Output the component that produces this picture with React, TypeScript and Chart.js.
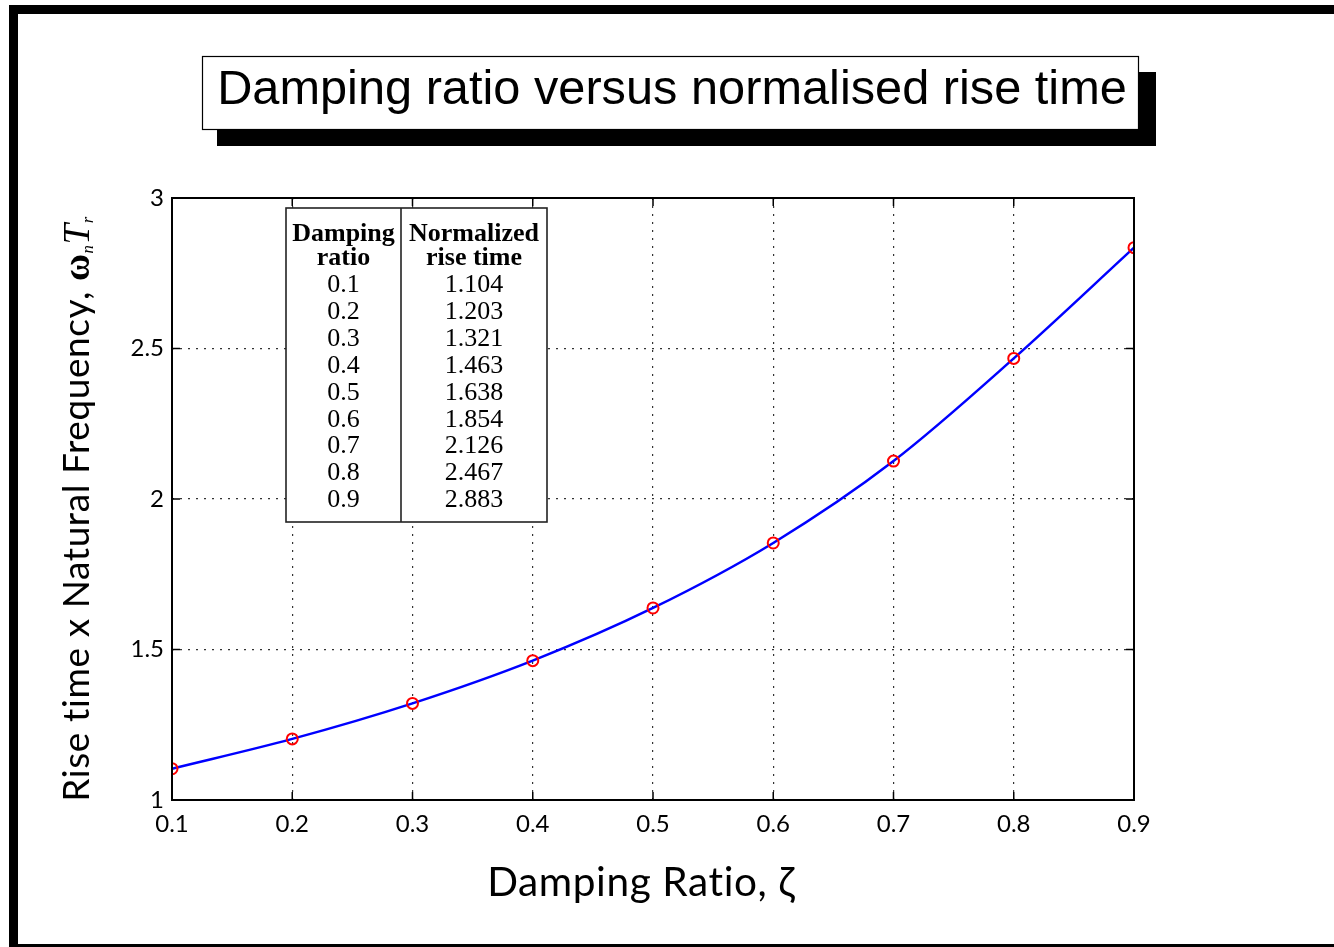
import React, { useEffect, useRef } from "react";
import { Chart, registerables } from "chart.js";

Chart.register(...registerables);

const dampingRatios = [0.1, 0.2, 0.3, 0.4, 0.5, 0.6, 0.7, 0.8, 0.9];
const riseTimes = [1.104, 1.203, 1.321, 1.463, 1.638, 1.854, 2.126, 2.467, 2.835];
const tableRatios = ["0.1", "0.2", "0.3", "0.4", "0.5", "0.6", "0.7", "0.8", "0.9"];
const tableRiseTimes = ["1.104", "1.203", "1.321", "1.463", "1.638", "1.854", "2.126", "2.467", "2.883"];
const xTicks = [0.1, 0.2, 0.3, 0.4, 0.5, 0.6, 0.7, 0.8, 0.9];
const yTicks = [1, 1.5, 2, 2.5, 3];
const titleText = "Damping ratio versus normalised rise time";
const xLabel = "Damping Ratio, \u03B6";
const yLabelMain = "Rise time x Natural Frequency, ";

const W = 1334;
const H = 947;
const SANS = "Lato, 'Liberation Sans', sans-serif";
const SERIF = "'Liberation Serif', 'DejaVu Serif', serif";

const decorPlugin = {
  id: "decor",
  beforeDraw(chart: any) {
    const ctx = chart.ctx;
    ctx.save();
    ctx.fillStyle = "#ffffff";
    ctx.fillRect(0, 0, W, H);
    ctx.restore();
  },
  afterDraw(chart: any) {
    const ctx = chart.ctx;
    const { left, right, top, bottom } = chart.chartArea;
    const xs = chart.scales.x;
    const ys = chart.scales.y;
    ctx.save();

    // inward tick marks
    ctx.strokeStyle = "#000";
    ctx.lineWidth = 1.5;
    ctx.setLineDash([]);
    const tl = 8;
    xTicks.forEach((v) => {
      const px = xs.getPixelForValue(v);
      ctx.beginPath();
      ctx.moveTo(px, bottom);
      ctx.lineTo(px, bottom - tl);
      ctx.moveTo(px, top);
      ctx.lineTo(px, top + tl);
      ctx.stroke();
    });
    yTicks.forEach((v) => {
      const py = ys.getPixelForValue(v);
      ctx.beginPath();
      ctx.moveTo(left, py);
      ctx.lineTo(left + tl, py);
      ctx.moveTo(right, py);
      ctx.lineTo(right - tl, py);
      ctx.stroke();
    });

    // axes box
    ctx.lineWidth = 2;
    ctx.strokeRect(left, top, right - left, bottom - top);

    // table
    const tx0 = 286, tx1 = 547, ty0 = 208, ty1 = 522, tdiv = 401;
    ctx.fillStyle = "#fff";
    ctx.fillRect(tx0, ty0, tx1 - tx0, ty1 - ty0);
    ctx.strokeStyle = "#222";
    ctx.lineWidth = 1.6;
    ctx.strokeRect(tx0, ty0, tx1 - tx0, ty1 - ty0);
    ctx.beginPath();
    ctx.moveTo(tdiv, ty0);
    ctx.lineTo(tdiv, ty1);
    ctx.stroke();
    const c1 = (tx0 + tdiv) / 2;
    const c2 = (tdiv + tx1) / 2;
    ctx.fillStyle = "#000";
    ctx.textAlign = "center";
    ctx.textBaseline = "alphabetic";
    ctx.font = `bold 26px ${SERIF}`;
    ctx.fillText("Damping", c1, 241);
    ctx.fillText("ratio", c1, 265);
    ctx.fillText("Normalized", c2, 241);
    ctx.fillText("rise time", c2, 265);
    ctx.font = `26px ${SERIF}`;
    tableRatios.forEach((t, i) => {
      const by = 292 + i * 26.9;
      ctx.fillText(t, c1, by);
      ctx.fillText(tableRiseTimes[i], c2, by);
    });

    // outer frame
    ctx.fillStyle = "#000";
    ctx.fillRect(9, 5, W - 9, 9);
    ctx.fillRect(9, 5, 9, H - 5);
    ctx.fillRect(9, 944, W - 9, 3);

    // title box with shadow
    ctx.fillRect(217, 72, 1156 - 217, 146 - 72);
    ctx.fillStyle = "#fff";
    ctx.fillRect(202, 56, 1138 - 202, 129 - 56);
    ctx.strokeStyle = "#000";
    ctx.lineWidth = 1.2;
    ctx.strokeRect(202.5, 56.5, 1138 - 202, 129 - 56);
    ctx.fillStyle = "#000";
    ctx.font = `100px 'Liberation Sans', Arial, sans-serif`;
    const tw = ctx.measureText(titleText).width;
    const tsize = (100 * 910) / tw;
    ctx.font = `${tsize}px 'Liberation Sans', Arial, sans-serif`;
    ctx.textAlign = "center";
    ctx.fillText(titleText, 672, 104);

    // x label
    try { (ctx as any).letterSpacing = "0.6px"; } catch (e) {}
    ctx.font = `100px ${SANS}`;
    const xw = ctx.measureText(xLabel).width;
    const xsize = Math.min(42, (100 * 302) / xw);
    ctx.font = `${xsize}px ${SANS}`;
    ctx.fillText(xLabel, 641, 896);

    // y label (rotated)
    const base = 37;
    const parts = [
      { t: yLabelMain, f: `${base}px ${SANS}`, dy: 0 },
      { t: "\u03C9", f: `bold ${base}px ${SERIF}`, dy: 0 },
      { t: "n", f: `italic ${base * 0.45}px ${SERIF}`, dy: 4 },
      { t: "T", f: `italic ${base}px ${SERIF}`, dy: 0 },
      { t: "r", f: `italic ${base * 0.45}px ${SERIF}`, dy: 4 },
    ];
    let total = 0;
    const widths = parts.map((p) => {
      ctx.font = p.f;
      const w = ctx.measureText(p.t).width;
      total += w;
      return w;
    });
    ctx.translate(89, 509);
    ctx.rotate(-Math.PI / 2);
    ctx.textAlign = "left";
    let cx = -total / 2;
    parts.forEach((p, i) => {
      ctx.font = p.f;
      ctx.fillText(p.t, cx, p.dy);
      cx += widths[i];
    });
    try { (ctx as any).letterSpacing = "0px"; } catch (e) {}
    ctx.restore();
  },
};

export default function App() {
  const ref = useRef<HTMLCanvasElement | null>(null);
  useEffect(() => {
    if (!ref.current) return;
    const chart = new Chart(ref.current, {
      type: "line",
      data: {
        datasets: [
          {
            data: dampingRatios.map((x, i) => ({ x, y: riseTimes[i] })),
            borderColor: "#0000ff",
            borderWidth: 2.5,
            cubicInterpolationMode: "monotone",
            pointRadius: 5.5,
            pointBorderWidth: 2,
            pointBorderColor: "#ff0000",
            pointBackgroundColor: "rgba(0,0,0,0)",
            fill: false,
          },
        ],
      },
      options: {
        responsive: false,
        animation: false,
        events: [],
        layout: { padding: { left: 100, right: 200, top: 198, bottom: 100 } },
        plugins: {
          legend: { display: false },
          tooltip: { enabled: false },
          title: { display: false },
        },
        scales: {
          x: {
            type: "linear",
            min: 0.1,
            max: 0.9,
            afterBuildTicks: (s: any) => {
              s.ticks = xTicks.map((v) => ({ value: v }));
            },
            afterFit: (s: any) => {
              s.height = 47;
            },
            ticks: {
              color: "#000",
              font: { family: SANS, size: 24 },
              padding: 10,
              maxRotation: 0,
              callback: (v: any) => Number(v).toFixed(1),
            },
            grid: { color: "#333", lineWidth: 1.2, drawTicks: false },
            border: { display: false, dash: [2, 6] },
          },
          y: {
            type: "linear",
            min: 1,
            max: 3,
            afterBuildTicks: (s: any) => {
              s.ticks = yTicks.map((v) => ({ value: v }));
            },
            afterFit: (s: any) => {
              s.width = 72;
            },
            ticks: {
              color: "#000",
              font: { family: SANS, size: 24 },
              padding: 8,
              callback: (v: any) => (Number.isInteger(v) ? String(v) : Number(v).toFixed(1)),
            },
            grid: { color: "#333", lineWidth: 1.2, drawTicks: false },
            border: { display: false, dash: [2, 6] },
          },
        },
      },
      plugins: [decorPlugin],
    } as any);
    return () => chart.destroy();
  }, []);
  return (
    <div style={{ position: "absolute", left: 0, top: 0, width: W, height: H, background: "#fff" }}>
      <canvas ref={ref} width={W} height={H} style={{ display: "block", width: W, height: H }} />
    </div>
  );
}
